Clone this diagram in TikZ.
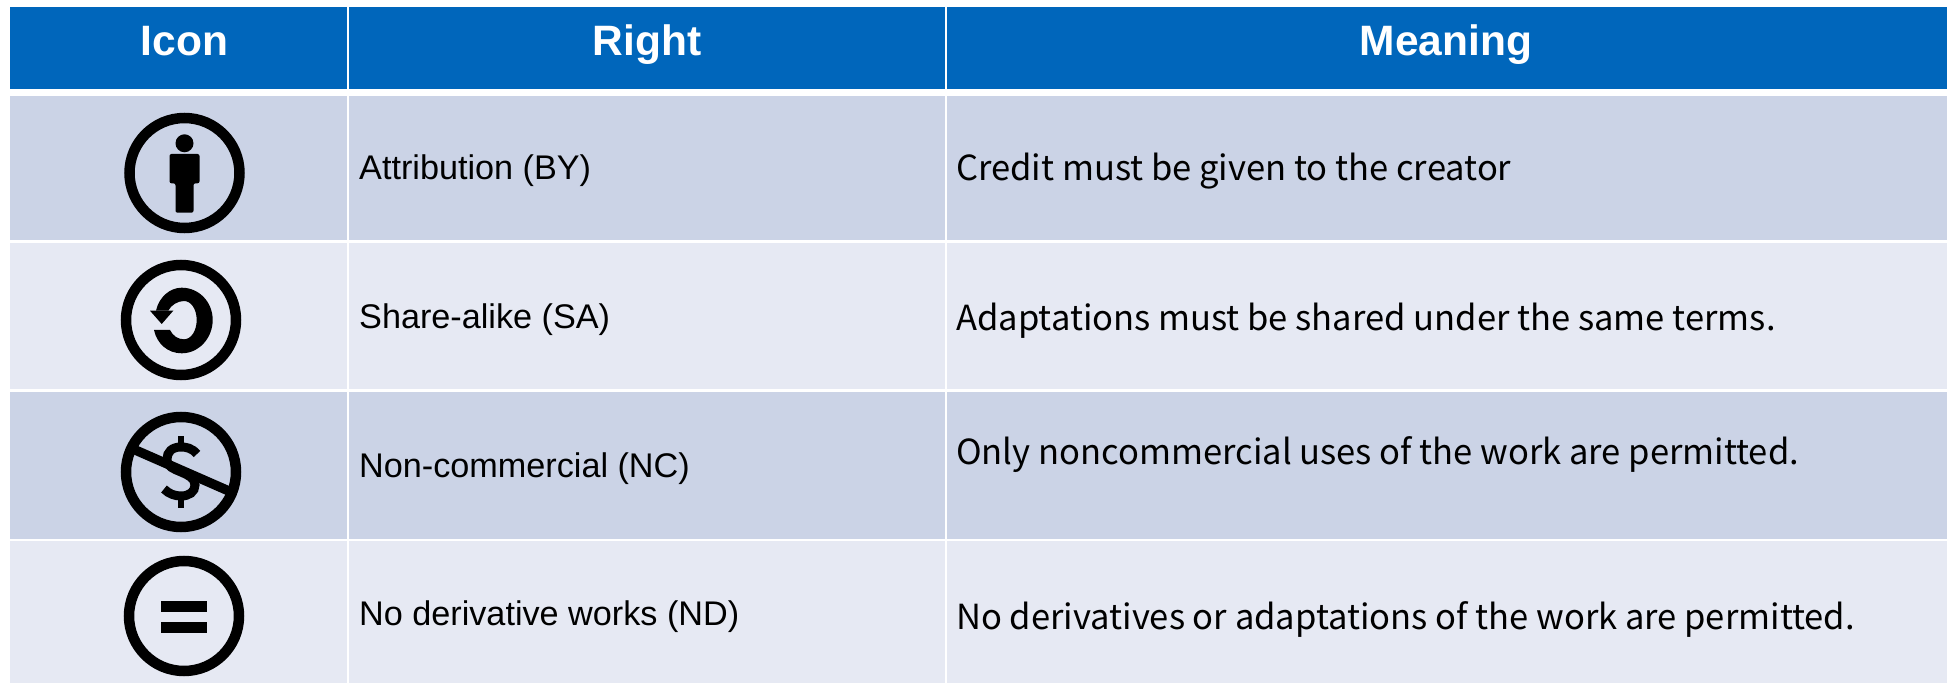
\documentclass[tikz,border=0pt]{standalone}
\usepackage{fontspec}
\setmainfont{Liberation Sans}
\newfontfamily\meanfont{Noto Sans CJK SC}
\definecolor{headblue}{RGB}{0,102,187}
\definecolor{rowdark}{RGB}{203,211,230}
\definecolor{rowlight}{RGB}{230,233,243}
\tikzstyle{cell}=[rectangle,inner sep=0mm,outer sep=0mm]
\tikzstyle{head}=[anchor=base,inner sep=0mm,text=white,font=\fontsize{42.5}{42.5}\selectfont\bfseries]
\tikzstyle{right}=[anchor=base west,inner sep=0mm,font=\fontsize{34.2}{34.2}\selectfont]
\tikzstyle{mean}=[anchor=base west,inner sep=0mm,font=\meanfont\fontsize{34.55}{34.55}\selectfont]
\tikzstyle{ring}=[circle,draw=black,line width=10.5,minimum size=110,inner sep=0mm,outer sep=0mm]
\begin{document}
\begin{tikzpicture}[x=1pt,y=1pt]
          \useasboundingbox (0,0) rectangle (1951,683);
          % header
          \node[cell,fill=headblue,minimum width=337.3,minimum height=82] at (178.65,635) (c01) {};
          \node[cell,fill=headblue,minimum width=595.7,minimum height=82] at (647.15,635) (c02) {};
          \node[cell,fill=headblue,minimum width=1000,minimum height=82] at (1447,635) (c03) {};
          \node[head] at (184.5,627) (icon) {Icon};
          \node[head] at (647,627) (right) {Right};
          \node[head] at (1446,627) (meaning) {Meaning};
          % row backgrounds
          \node[cell,fill=rowdark,minimum width=337.3,minimum height=144.3] at (178.65,515.15) (c11) {};
          \node[cell,fill=rowdark,minimum width=595.7,minimum height=144.3] at (647.15,515.15) (c12) {};
          \node[cell,fill=rowdark,minimum width=1000,minimum height=144.3] at (1447,515.15) (c13) {};
          \node[cell,fill=rowlight,minimum width=337.3,minimum height=146] at (178.65,367) (c21) {};
          \node[cell,fill=rowlight,minimum width=595.7,minimum height=146] at (647.15,367) (c22) {};
          \node[cell,fill=rowlight,minimum width=1000,minimum height=146] at (1447,367) (c23) {};
          \node[cell,fill=rowdark,minimum width=337.3,minimum height=146.8] at (178.65,217.9) (c31) {};
          \node[cell,fill=rowdark,minimum width=595.7,minimum height=146.8] at (647.15,217.9) (c32) {};
          \node[cell,fill=rowdark,minimum width=1000,minimum height=146.8] at (1447,217.9) (c33) {};
          \node[cell,fill=rowlight,minimum width=337.3,minimum height=142] at (178.65,71.3) (c41) {};
          \node[cell,fill=rowlight,minimum width=595.7,minimum height=142] at (647.15,71.3) (c42) {};
          \node[cell,fill=rowlight,minimum width=1000,minimum height=142] at (1447,71.3) (c43) {};
          % texts
          \node[right] at (359,503.8) (rby) {Attribution (BY)};
          \node[right] at (359,354.8) (rsa) {Share-alike (SA)};
          \node[right] at (359,205.8) (rnc) {Non-commercial (NC)};
          \node[right] at (359,57.8) (rnd) {No derivative works (ND)};
          \node[mean] at (956,502) (mby) {Credit must be given to the creator};
          \node[mean] at (956,352) (msa) {Adaptations must be shared under the same terms.};
          \node[mean] at (956,218) (mnc) {Only noncommercial uses of the work are permitted.};
          \node[mean] at (956,53.5) (mnd) {No derivatives or adaptations of the work are permitted.};
          % attribution icon
          \begin{scope}[shift={(184.5,510)}]
            \node[ring] at (0,0) (iby) {};
            \fill (0,29.7) circle (9);
            \fill[rounded corners=2] (-15,-10.3) -- (-15,19) -- (15,19) -- (15,-10.3) -- (9,-10.3) -- (9,-39.7) -- (-9,-39.7) -- (-9,-10.3) -- cycle;
          \end{scope}
          % share-alike icon
          \begin{scope}[shift={(181,363)}]
            \node[ring] at (0,0) (isa) {};
            \fill (-25,9.3) .. controls (-22,23) and (-11,32.3) .. (0.7,32.3) .. controls (18,32.3) and (31.7,18) .. (31.7,0) .. controls (31.7,-18) and (18,-33.3) .. (0.7,-33.3) .. controls (-13,-33.3) and (-24,-24) .. (-27,-10) -- (-11,-10) .. controls (-8,-16) and (-3,-19.3) .. (3,-19.3) .. controls (10,-19.3) and (15.7,-11) .. (15.7,0) .. controls (15.7,11) and (10,19) .. (3,19) .. controls (-3,19) and (-10,15) .. (-12.7,9.3) -- cycle;
            \fill (-31,9.3) -- (-7.7,9.3) -- (-19.3,-4) -- cycle;
          \end{scope}
          % non-commercial icon
          \begin{scope}[shift={(181,211)}]
            \node[ring] at (0,0) (inc) {};
            \draw[line width=9] (16,18) .. controls (11,24) and (5,25) .. (0,25) .. controls (-9,25) and (-14,20) .. (-14,13) .. controls (-14,5) and (-7,3) .. (0,0) .. controls (7,-3) and (14,-6) .. (14,-13) .. controls (14,-20) and (8,-24) .. (0,-24) .. controls (-6,-24) and (-12,-22) .. (-17,-17);
            \draw[line width=6.5] (0,25) -- (0,36);
            \draw[line width=6.5] (0,-24) -- (0,-36);
            \draw[line width=9.5] (-48,23) -- (49,-19.5);
          \end{scope}
          % no-derivatives icon
          \begin{scope}[shift={(184,67)}]
            \node[ring] at (0,0) (ind) {};
            \fill (-22.8,4) rectangle (22.8,15.3);
            \fill (-22.8,-17) rectangle (22.8,-5.7);
          \end{scope}
        \end{tikzpicture}
\end{document}
